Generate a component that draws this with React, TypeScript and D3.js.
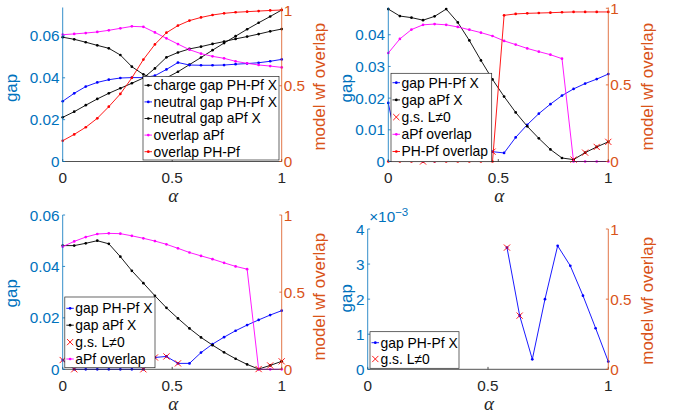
import React from "react";
import * as d3 from "d3";

const W = 681;
const H = 420;
const AX = "#262626";
const LBLUE = "#0072BD";
const RORANGE = "#D95319";
const FONT = "'Liberation Sans', Arial, Helvetica, sans-serif";

// alpha grid (20 points)
const alpha = [0, 0.0526, 0.1053, 0.1579, 0.2105, 0.2632, 0.3158, 0.3684, 0.4211, 0.4737, 0.5263, 0.5789, 0.6316, 0.6842, 0.7368, 0.7895, 0.8421, 0.8947, 0.9474, 1];
const xTicks = [0, 0.5, 1];
const xTickLabels = ["0", "0.5", "1"];
const rightTicks = [0, 0.5, 1];
const rightTickLabels = ["0", "0.5", "1"];

// ---- panel 1 (top-left) ----
const p1ChargeGapPH = [0.0594, 0.0584, 0.057, 0.0555, 0.0541, 0.0509, 0.0453, 0.0416, 0.0395, 0.04, 0.0429, 0.0463, 0.0497, 0.0532, 0.0566, 0.0599, 0.0632, 0.0663, 0.0693, 0.0724];
const p1NeutralGapPH = [0.0288, 0.0326, 0.0358, 0.0378, 0.0391, 0.0399, 0.0401, 0.0401, 0.041, 0.044, 0.0473, 0.0461, 0.046, 0.046, 0.0461, 0.0465, 0.0468, 0.0472, 0.0479, 0.0488];
const p1NeutralGapAPf = [0.0211, 0.0238, 0.0269, 0.0299, 0.0326, 0.035, 0.0374, 0.0399, 0.0445, 0.0498, 0.0521, 0.0538, 0.0549, 0.0562, 0.0573, 0.0586, 0.0597, 0.0609, 0.0622, 0.0633];
const p1OverlapAPf = [0.837, 0.842, 0.848, 0.855, 0.866, 0.879, 0.892, 0.889, 0.852, 0.813, 0.775, 0.738, 0.712, 0.694, 0.681, 0.661, 0.648, 0.637, 0.63, 0.621];
const p1OverlapPH = [0.137, 0.179, 0.226, 0.285, 0.362, 0.446, 0.552, 0.673, 0.773, 0.85, 0.897, 0.93, 0.951, 0.967, 0.978, 0.985, 0.989, 0.993, 0.997, 1.0];
const p1LeftTicks = [0, 0.02, 0.04, 0.06];
const p1LeftLabels = ["0", "0.02", "0.04", "0.06"];

// ---- panel 2 (top-right) ----
const p2GapPH = [0.0185, 0.0003, 0.0002, 0, 0.0001, 0.0002, 0.0004, 0.0008, 0.0016, 0.0031, 0.0027, 0.0076, 0.0116, 0.0151, 0.0181, 0.0208, 0.0229, 0.0246, 0.026, 0.0276];
const p2GapAPf = [0.0481, 0.0459, 0.0454, 0.0446, 0.0458, 0.0481, 0.0439, 0.0382, 0.0319, 0.0259, 0.0205, 0.0155, 0.0111, 0.0073, 0.0038, 0.0011, 0.0006, 0.0028, 0.0046, 0.0062];
const p2GsAlpha = [0.1579, 0.4737, 0.8421, 0.8947, 0.9474, 1];
const p2GsGap = [0, 0.0031, 0.0006, 0.0028, 0.0046, 0.0062];
const p2OverlapAPf = [0.708, 0.8, 0.861, 0.892, 0.897, 0.892, 0.878, 0.86, 0.841, 0.819, 0.787, 0.763, 0.738, 0.717, 0.697, 0.671, 0, 0, 0, 0];
const p2OverlapPH = [0, 0, 0, 0, 0, 0, 0, 0, 0, 0, 0.954, 0.963, 0.967, 0.969, 0.971, 0.974, 0.976, 0.976, 0.976, 0.976];
const p2LeftTicks = [0, 0.01, 0.02, 0.03, 0.04];
const p2LeftLabels = ["0", "0.01", "0.02", "0.03", "0.04"];

// ---- panel 3 (bottom-left) ----
const p3GapPH = [0.0036, 0, 0, 0, 0, 0, 0, 0, 0.0046, 0.005, 0.0023, 0.0023, 0.0065, 0.0098, 0.0125, 0.015, 0.0172, 0.0192, 0.0211, 0.0228];
const p3GapAPf = [0.0481, 0.0481, 0.049, 0.05, 0.0488, 0.0438, 0.0383, 0.0335, 0.0286, 0.0239, 0.0198, 0.0159, 0.0124, 0.0094, 0.0066, 0.0041, 0.0019, 0.0001, 0.0015, 0.0031];
const p3GsAlpha = [0, 0.0526, 0.3684, 0.4211, 0.4737, 0.5263, 0.8947, 0.9474, 1];
const p3GsGap = [0.0036, 0, 0, 0.0046, 0.005, 0.0023, 0.0001, 0.0015, 0.0031];
const p3OverlapAPf = [0.795, 0.829, 0.857, 0.877, 0.881, 0.879, 0.865, 0.849, 0.831, 0.81, 0.784, 0.757, 0.735, 0.714, 0.69, 0.667, 0.649, 0, 0, 0];
const p3LeftTicks = [0, 0.02, 0.04, 0.06];
const p3LeftLabels = ["0", "0.02", "0.04", "0.06"];

// ---- panel 4 (bottom-right) ----
const p4GapPH = [null, null, null, null, null, null, null, null, null, null, null, 0.00347, 0.00153, 0.000285, 0.002, 0.00352, 0.00295, 0.0021, 0.00117, 0.00022];
const p4GsAlpha = [0.5789, 0.6316];
const p4GsGap = [0.00347, 0.00153];
const p4LeftTicks = [0, 0.001, 0.002, 0.003, 0.004];
const p4LeftLabels = ["0", "1", "2", "3", "4"];

type Series = { y: (number | null)[]; color: string; side: "L" | "R"; label: string };
type Gs = { a: number[]; g: number[] } | null;
type Leg = { x: number; y: number; w: number; h: number; row0: number; dy: number; entries: { label: string; color: string; kind: "dot" | "x" }[] };
type PanelCfg = {
  x0: number; x1: number; yTop: number; yBot: number;
  leftMax: number; rightMax: number;
  leftTicks: number[]; leftLabels: string[];
  series: Series[]; gs: Gs; legend: Leg;
  gapLab: [number, number]; ovLab: [number, number];
  exponent?: boolean;
};

const TICK_FS = 15.3;
const LEG_FS = 13.9;
const LAB_FS = 16.9;
const TL = 2.4;

function xMark(cx: number, cy: number, s: number) {
  return `M${cx - s},${cy - s}L${cx + s},${cy + s}M${cx - s},${cy + s}L${cx + s},${cy - s}`;
}

function Panel({ c }: { c: PanelCfg }) {
  const xs = d3.scaleLinear().domain([0, 1]).range([c.x0, c.x1]);
  const yl = d3.scaleLinear().domain([0, c.leftMax]).range([c.yBot, c.yTop]);
  const yr = d3.scaleLinear().domain([0, c.rightMax]).range([c.yBot, c.yTop]);
  const leftSeries = c.series.filter((s) => s.side === "L");
  const rightSeries = c.series.filter((s) => s.side === "R");
  const drawSeries = (s: Series, i: number) => {
    const ys = s.side === "L" ? yl : yr;
    const pts = alpha.map((a, k) => [a, s.y[k]] as [number, number | null]);
    const line = d3
      .line<[number, number | null]>()
      .defined((d) => d[1] != null)
      .x((d) => xs(d[0]))
      .y((d) => ys(d[1] as number));
    return (
      <g key={s.label + i}>
        <path d={line(pts) || ""} fill="none" stroke={s.color} strokeWidth={0.9} />
        {pts
          .filter((d) => d[1] != null)
          .map((d, k) => (
            <circle key={k} cx={xs(d[0])} cy={ys(d[1] as number)} r={1.35} fill={s.color} />
          ))}
      </g>
    );
  };
  const midX = (c.x0 + c.x1) / 2;
  const L = c.legend;
  return (
    <g>
      {leftSeries.map(drawSeries)}
      {rightSeries.map(drawSeries)}
      {c.gs &&
        c.gs.a.map((a, i) => (
          <path key={"gs" + i} d={xMark(xs(a), yl(c.gs!.g[i]), 3.1)} stroke="#FF0000" strokeWidth={0.9} fill="none" />
        ))}
      {/* x axis */}
      <line x1={c.x0} x2={c.x1} y1={c.yBot} y2={c.yBot} stroke={AX} strokeWidth={0.8} />
      {xTicks.map((t, i) => (
        <g key={"xt" + i}>
          <line x1={xs(t)} x2={xs(t)} y1={c.yBot} y2={c.yBot - TL} stroke={AX} strokeWidth={0.8} />
          <text x={xs(t)} y={c.yBot + 21.2} fontSize={TICK_FS} fill={AX} textAnchor="middle" fontFamily={FONT}>
            {xTickLabels[i]}
          </text>
        </g>
      ))}
      <text x={midX + 1} y={c.yBot + 40.3} fontSize={19} fontStyle="italic" fill={AX} textAnchor="middle" fontFamily="'Liberation Serif', 'DejaVu Serif', serif">
        α
      </text>
      {/* left axis */}
      <line x1={c.x0} x2={c.x0} y1={c.yTop} y2={c.yBot} stroke={LBLUE} strokeWidth={0.8} />
      {c.leftTicks.map((t, i) => (
        <g key={"lt" + i}>
          <line x1={c.x0} x2={c.x0 + TL} y1={yl(t)} y2={yl(t)} stroke={LBLUE} strokeWidth={0.8} />
          <text x={c.x0 - 3.2} y={yl(t)} dy="0.36em" fontSize={TICK_FS} fill={LBLUE} textAnchor="end" fontFamily={FONT}>
            {c.leftLabels[i]}
          </text>
        </g>
      ))}
      {/* right axis */}
      <line x1={c.x1} x2={c.x1} y1={c.yTop} y2={c.yBot} stroke={RORANGE} strokeWidth={0.8} />
      {rightTicks.map((t, i) => (
        <g key={"rt" + i}>
          <line x1={c.x1} x2={c.x1 - TL} y1={yr(t)} y2={yr(t)} stroke={RORANGE} strokeWidth={0.8} />
          <text x={c.x1 + 2} y={yr(t)} dy="0.36em" fontSize={TICK_FS} fill={RORANGE} textAnchor="start" fontFamily={FONT}>
            {rightTickLabels[i]}
          </text>
        </g>
      ))}
      <text transform={`translate(${c.gapLab[0]},${c.gapLab[1]}) rotate(-90)`} fontSize={LAB_FS} fill={LBLUE} textAnchor="middle" fontFamily={FONT}>
        gap
      </text>
      <text transform={`translate(${c.ovLab[0]},${c.ovLab[1]}) rotate(-90)`} fontSize={LAB_FS} fill={RORANGE} textAnchor="middle" fontFamily={FONT}>
        model wf overlap
      </text>
      {c.exponent && (
        <text x={c.x0 + 1.5} y={c.yTop - 7.3} fontSize={TICK_FS} fill={LBLUE} fontFamily={FONT}>
          <tspan>×10</tspan>
          <tspan dy={-5.5} fontSize={11.5}>−3</tspan>
        </text>
      )}
      {/* legend */}
      <rect x={L.x} y={L.y} width={L.w} height={L.h} fill="#fff" stroke={AX} strokeWidth={0.7} />
      {L.entries.map((e, i) => {
        const cy = L.row0 + i * L.dy;
        return (
          <g key={"le" + i}>
            {e.kind === "dot" ? (
              <g>
                <line x1={L.x + 1.5} x2={L.x + 9} y1={cy} y2={cy} stroke={e.color} strokeWidth={0.9} />
                <circle cx={L.x + 5.3} cy={cy} r={1.35} fill={e.color} />
              </g>
            ) : (
              <path d={xMark(L.x + 5.3, cy, 3.1)} stroke={e.color} strokeWidth={0.9} fill="none" />
            )}
            <text x={L.x + 10.5} y={cy} dy="0.35em" fontSize={LEG_FS} fill="#000" fontFamily={FONT}>
              {e.label}
            </text>
          </g>
        );
      })}
    </g>
  );
}

const panels: PanelCfg[] = [
  {
    x0: 62.7, x1: 281.7, yTop: 7.5, yBot: 161.5, leftMax: 0.0736, rightMax: 1.0165,
    leftTicks: p1LeftTicks, leftLabels: p1LeftLabels,
    series: [
      { y: p1ChargeGapPH, color: "#000000", side: "L", label: "charge gap PH-Pf X" },
      { y: p1NeutralGapPH, color: "#0000FF", side: "L", label: "neutral gap PH-Pf X" },
      { y: p1NeutralGapAPf, color: "#000000", side: "L", label: "neutral gap aPf X" },
      { y: p1OverlapAPf, color: "#FF00FF", side: "R", label: "overlap aPf" },
      { y: p1OverlapPH, color: "#FF0000", side: "R", label: "overlap PH-Pf" },
    ],
    gs: null,
    legend: {
      x: 143, y: 76.5, w: 136, h: 83.5, row0: 85.3, dy: 16.6,
      entries: [
        { label: "charge gap PH-Pf X", color: "#000000", kind: "dot" },
        { label: "neutral gap PH-Pf X", color: "#0000FF", kind: "dot" },
        { label: "neutral gap aPf X", color: "#000000", kind: "dot" },
        { label: "overlap aPf", color: "#FF00FF", kind: "dot" },
        { label: "overlap PH-Pf", color: "#FF0000", kind: "dot" },
      ],
    },
    gapLab: [17.2, 88], ovLab: [324.8, 86.7],
  },
  {
    x0: 388.3, x1: 608.3, yTop: 7.5, yBot: 161.5, leftMax: 0.0486, rightMax: 1.005,
    leftTicks: p2LeftTicks, leftLabels: p2LeftLabels,
    series: [
      { y: p2GapPH, color: "#0000FF", side: "L", label: "gap PH-Pf X" },
      { y: p2GapAPf, color: "#000000", side: "L", label: "gap aPf X" },
      { y: p2OverlapAPf, color: "#FF00FF", side: "R", label: "aPf overlap" },
      { y: p2OverlapPH, color: "#FF0000", side: "R", label: "PH-Pf overlap" },
    ],
    gs: { a: p2GsAlpha, g: p2GsGap },
    legend: {
      x: 391, y: 73.3, w: 100.7, h: 88.4, row0: 82.7, dy: 17.2,
      entries: [
        { label: "gap PH-Pf X", color: "#0000FF", kind: "dot" },
        { label: "gap aPf X", color: "#000000", kind: "dot" },
        { label: "g.s. L≠0", color: "#FF0000", kind: "x" },
        { label: "aPf overlap", color: "#FF00FF", kind: "dot" },
        { label: "PH-Pf overlap", color: "#FF0000", kind: "dot" },
      ],
    },
    gapLab: [351.5, 88.3], ovLab: [653.2, 86.7],
  },
  {
    x0: 62.7, x1: 281.7, yTop: 215, yBot: 369.3, leftMax: 0.06, rightMax: 1,
    leftTicks: p3LeftTicks, leftLabels: p3LeftLabels,
    series: [
      { y: p3GapPH, color: "#0000FF", side: "L", label: "gap PH-Pf X" },
      { y: p3GapAPf, color: "#000000", side: "L", label: "gap aPf X" },
      { y: p3OverlapAPf, color: "#FF00FF", side: "R", label: "aPf overlap" },
    ],
    gs: { a: p3GsAlpha, g: p3GsGap },
    legend: {
      x: 64.8, y: 297, w: 90.2, h: 70.7, row0: 308.3, dy: 16.9,
      entries: [
        { label: "gap PH-Pf X", color: "#0000FF", kind: "dot" },
        { label: "gap aPf X", color: "#000000", kind: "dot" },
        { label: "g.s. L≠0", color: "#FF0000", kind: "x" },
        { label: "aPf overlap", color: "#FF00FF", kind: "dot" },
      ],
    },
    gapLab: [17.2, 293.3], ovLab: [324.8, 296.7],
  },
  {
    x0: 367.7, x1: 608.3, yTop: 229, yBot: 369.3, leftMax: 0.004, rightMax: 1,
    leftTicks: p4LeftTicks, leftLabels: p4LeftLabels,
    series: [{ y: p4GapPH, color: "#0000FF", side: "L", label: "gap PH-Pf X" }],
    gs: { a: p4GsAlpha, g: p4GsGap },
    legend: {
      x: 370, y: 331.7, w: 89, h: 36.6, row0: 342.7, dy: 16.3,
      entries: [
        { label: "gap PH-Pf X", color: "#0000FF", kind: "dot" },
        { label: "g.s. L≠0", color: "#FF0000", kind: "x" },
      ],
    },
    gapLab: [351.5, 298.3], ovLab: [653.2, 300.8],
    exponent: true,
  },
];

export default function App() {
  return (
    <svg
      width={W}
      height={H}
      viewBox={`0 0 ${W} ${H}`}
      style={{ position: "absolute", left: 0, top: 0, background: "#fff", display: "block" }}
    >
      <rect x={0} y={0} width={W} height={H} fill="#fff" />
      {panels.map((c, i) => (
        <Panel key={i} c={c} />
      ))}
    </svg>
  );
}
